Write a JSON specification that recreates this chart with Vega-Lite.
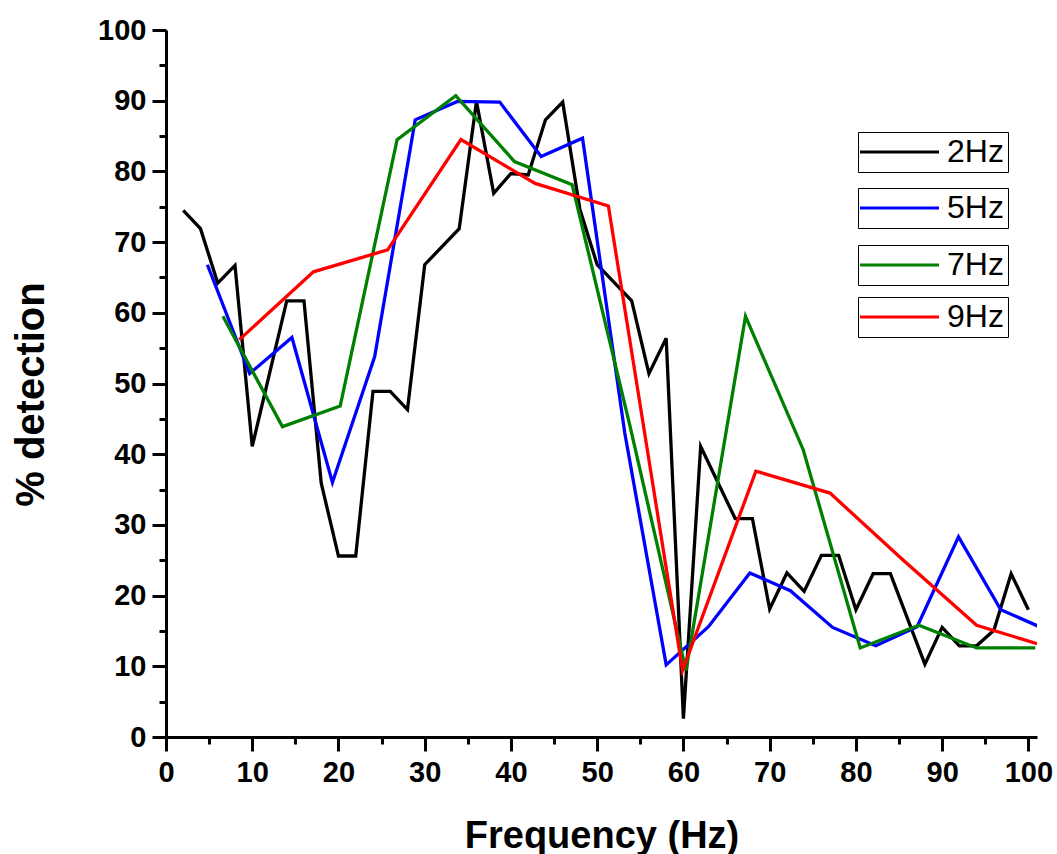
{
  "$schema": "https://vega.github.io/schema/vega-lite/v6.json",
  "autosize": "none",
  "width": 871,
  "height": 707,
  "padding": {"left": 166, "top": 30, "right": 20, "bottom": 117},
  "background": "white",
  "config": {
    "view": {"stroke": null},
    "font": "Liberation Sans",
    "axis": {
      "domainColor": "black", "domainWidth": 3, "tickColor": "black", "tickWidth": 3,
      "labelFont": "Liberation Sans", "labelFontWeight": "bold", "labelFontSize": 29, "labelColor": "black",
      "titleFont": "Liberation Sans", "titleFontWeight": "bold", "titleColor": "black", "grid": false
    },
    "legend": {
      "orient": "none", "title": null, "strokeColor": "black", "padding": 4,
      "symbolType": "M-1.8,0H6.1", "symbolSize": 400, "symbolStrokeWidth": 3.2,
      "labelFontSize": 32, "labelFont": "Liberation Sans", "labelColor": "black", "labelOffset": 53
    }
  },
  "data": {"values": [
    {"series": "2Hz", "f": 2, "d": 74.5}, {"series": "2Hz", "f": 4, "d": 71.9}, {"series": "2Hz", "f": 6, "d": 64.2},
    {"series": "2Hz", "f": 8, "d": 66.7}, {"series": "2Hz", "f": 10, "d": 41.1}, {"series": "2Hz", "f": 14, "d": 61.7},
    {"series": "2Hz", "f": 16, "d": 61.7}, {"series": "2Hz", "f": 18, "d": 35.9}, {"series": "2Hz", "f": 20, "d": 25.6},
    {"series": "2Hz", "f": 22, "d": 25.6}, {"series": "2Hz", "f": 24, "d": 48.9}, {"series": "2Hz", "f": 26, "d": 48.9},
    {"series": "2Hz", "f": 28, "d": 46.3}, {"series": "2Hz", "f": 30, "d": 66.8}, {"series": "2Hz", "f": 34, "d": 71.9},
    {"series": "2Hz", "f": 36, "d": 89.9}, {"series": "2Hz", "f": 38, "d": 76.9}, {"series": "2Hz", "f": 40, "d": 79.7},
    {"series": "2Hz", "f": 42, "d": 79.5}, {"series": "2Hz", "f": 44, "d": 87.3}, {"series": "2Hz", "f": 46, "d": 89.8},
    {"series": "2Hz", "f": 48, "d": 74.6}, {"series": "2Hz", "f": 50, "d": 66.8}, {"series": "2Hz", "f": 54, "d": 61.7},
    {"series": "2Hz", "f": 56, "d": 51.4}, {"series": "2Hz", "f": 58, "d": 56.4}, {"series": "2Hz", "f": 60, "d": 2.6},
    {"series": "2Hz", "f": 62, "d": 41.1}, {"series": "2Hz", "f": 66, "d": 30.9}, {"series": "2Hz", "f": 68, "d": 30.9},
    {"series": "2Hz", "f": 70, "d": 18.1}, {"series": "2Hz", "f": 72, "d": 23.2}, {"series": "2Hz", "f": 74, "d": 20.6},
    {"series": "2Hz", "f": 76, "d": 25.7}, {"series": "2Hz", "f": 78, "d": 25.7}, {"series": "2Hz", "f": 80, "d": 18.0},
    {"series": "2Hz", "f": 82, "d": 23.1}, {"series": "2Hz", "f": 84, "d": 23.1}, {"series": "2Hz", "f": 88, "d": 10.3},
    {"series": "2Hz", "f": 90, "d": 15.5}, {"series": "2Hz", "f": 92, "d": 12.9}, {"series": "2Hz", "f": 94, "d": 12.9},
    {"series": "2Hz", "f": 96, "d": 15.1}, {"series": "2Hz", "f": 98, "d": 23.1}, {"series": "2Hz", "f": 100, "d": 18.0},

    {"series": "5Hz", "f": 4.8, "d": 66.8}, {"series": "5Hz", "f": 9.7, "d": 51.4}, {"series": "5Hz", "f": 14.6, "d": 56.5},
    {"series": "5Hz", "f": 19.3, "d": 36.0}, {"series": "5Hz", "f": 24.2, "d": 53.8}, {"series": "5Hz", "f": 28.9, "d": 87.3},
    {"series": "5Hz", "f": 33.8, "d": 89.9}, {"series": "5Hz", "f": 38.7, "d": 89.8}, {"series": "5Hz", "f": 43.5, "d": 82.1},
    {"series": "5Hz", "f": 48.3, "d": 84.7}, {"series": "5Hz", "f": 53.2, "d": 43.0}, {"series": "5Hz", "f": 58.0, "d": 10.2},
    {"series": "5Hz", "f": 62.9, "d": 15.6}, {"series": "5Hz", "f": 67.7, "d": 23.2}, {"series": "5Hz", "f": 72.4, "d": 20.7},
    {"series": "5Hz", "f": 77.3, "d": 15.5}, {"series": "5Hz", "f": 82.3, "d": 12.9}, {"series": "5Hz", "f": 87.1, "d": 15.6},
    {"series": "5Hz", "f": 91.9, "d": 28.3}, {"series": "5Hz", "f": 96.8, "d": 18.0}, {"series": "5Hz", "f": 101.1, "d": 15.7},

    {"series": "7Hz", "f": 6.6, "d": 59.5}, {"series": "7Hz", "f": 13.5, "d": 43.9}, {"series": "7Hz", "f": 20.2, "d": 46.8},
    {"series": "7Hz", "f": 26.8, "d": 84.5}, {"series": "7Hz", "f": 33.6, "d": 90.7}, {"series": "7Hz", "f": 40.4, "d": 81.4},
    {"series": "7Hz", "f": 47.1, "d": 78.1}, {"series": "7Hz", "f": 53.8, "d": 44.0}, {"series": "7Hz", "f": 60.3, "d": 9.4},
    {"series": "7Hz", "f": 67.2, "d": 59.5}, {"series": "7Hz", "f": 73.9, "d": 40.6}, {"series": "7Hz", "f": 80.5, "d": 12.6},
    {"series": "7Hz", "f": 87.3, "d": 15.8}, {"series": "7Hz", "f": 94.0, "d": 12.6}, {"series": "7Hz", "f": 100.8, "d": 12.6},

    {"series": "9Hz", "f": 8.5, "d": 56.2}, {"series": "9Hz", "f": 17.1, "d": 65.8}, {"series": "9Hz", "f": 25.7, "d": 68.9},
    {"series": "9Hz", "f": 34.2, "d": 84.5}, {"series": "9Hz", "f": 42.8, "d": 78.3}, {"series": "9Hz", "f": 51.3, "d": 75.1},
    {"series": "9Hz", "f": 59.9, "d": 9.4}, {"series": "9Hz", "f": 68.4, "d": 37.6}, {"series": "9Hz", "f": 77.0, "d": 34.5},
    {"series": "9Hz", "f": 85.5, "d": 25.0}, {"series": "9Hz", "f": 94.0, "d": 15.8}, {"series": "9Hz", "f": 101.0, "d": 13.2}
  ]},
  "encoding": {
    "x": {
      "field": "f", "type": "quantitative",
      "scale": {"domain": [0, 101], "nice": false, "zero": false},
      "axis": {
        "title": "Frequency (Hz)", "titleFontSize": 38, "titlePadding": 30,
        "values": [0,5,10,15,20,25,30,35,40,45,50,55,60,65,70,75,80,85,90,95,100],
        "labelExpr": "datum.value % 10 === 0 ? datum.label : ''",
        "tickSize": {"condition": {"test": "datum.value % 10 === 0", "value": 14}, "value": 7},
        "labelPadding": 7, "labelFlush": false, "labelOverlap": false
      }
    },
    "y": {
      "field": "d", "type": "quantitative",
      "scale": {"domain": [0, 100], "nice": false},
      "axis": {
        "title": "% detection", "titleFontSize": 40, "titlePadding": 46, "titleY": 364,
        "values": [0,5,10,15,20,25,30,35,40,45,50,55,60,65,70,75,80,85,90,95,100],
        "labelExpr": "datum.value % 10 === 0 ? datum.label : ''",
        "tickSize": {"condition": {"test": "datum.value % 10 === 0", "value": 14}, "value": 7},
        "labelPadding": 6, "labelFlush": false, "labelOverlap": false
      }
    },
    "order": {"field": "f", "type": "quantitative"}
  },
  "layer": [
    {
      "transform": [{"filter": "datum.series === '2Hz'"}],
      "mark": {"type": "line", "strokeWidth": 3.3, "clip": true},
      "encoding": {"color": {"field": "series", "type": "nominal", "scale": {"domain": ["2Hz"], "range": ["#000000"]},
        "legend": {"legendX": 692, "legendY": 102}}}
    },
    {
      "transform": [{"filter": "datum.series === '5Hz'"}],
      "mark": {"type": "line", "strokeWidth": 3.3, "clip": true},
      "encoding": {"color": {"field": "series", "type": "nominal", "scale": {"domain": ["5Hz"], "range": ["#0000ff"]},
        "legend": {"legendX": 692, "legendY": 158}}}
    },
    {
      "transform": [{"filter": "datum.series === '7Hz'"}],
      "mark": {"type": "line", "strokeWidth": 3.3, "clip": true},
      "encoding": {"color": {"field": "series", "type": "nominal", "scale": {"domain": ["7Hz"], "range": ["#008000"]},
        "legend": {"legendX": 692, "legendY": 215}}}
    },
    {
      "transform": [{"filter": "datum.series === '9Hz'"}],
      "mark": {"type": "line", "strokeWidth": 3.3, "clip": true},
      "encoding": {"color": {"field": "series", "type": "nominal", "scale": {"domain": ["9Hz"], "range": ["#ff0000"]},
        "legend": {"legendX": 692, "legendY": 267}}}
    }
  ],
  "resolve": {"scale": {"color": "independent"}, "legend": {"color": "independent"}}
}
